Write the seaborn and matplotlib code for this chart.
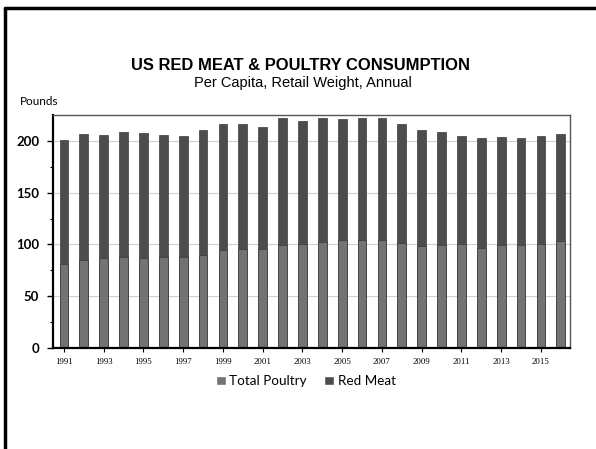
import matplotlib
matplotlib.use("Agg")
import matplotlib.pyplot as plt
import seaborn as sns
import pandas as pd
from matplotlib.lines import Line2D
from matplotlib.patches import Patch

# values (pounds per capita, retail weight)
years = [str(y) for y in range(1991, 2017)]
poultry = [81.5, 85.2, 86.8, 87.7, 87.1, 87.7, 88.0, 90.0, 94.5, 95.5,
           95.5, 99.7, 100.6, 102.3, 103.9, 104.2, 104.5, 101.6, 98.4, 99.7,
           100.3, 97.0, 99.4, 99.4, 100.6, 102.9]
red_meat = [119.5, 121.3, 119.2, 121.0, 120.9, 118.1, 116.8, 120.6, 122.0, 120.3,
            118.0, 121.9, 118.8, 119.7, 117.1, 117.8, 117.5, 114.2, 112.2, 109.3,
            104.7, 106.0, 104.1, 102.9, 104.4, 103.6]
y_ticks = [0, 50, 100, 150, 200]

poultry_color = "#737373"
red_color = "#4d4d4d"

df = pd.DataFrame({"year": years, "poultry": poultry, "red_meat": red_meat})
df["total"] = df["poultry"] + df["red_meat"]

sns.set_style("white")
plt.rcParams["font.family"] = ["Liberation Sans", "DejaVu Sans"]
plt.rcParams["text.color"] = "black"
plt.rcParams["xtick.color"] = "black"
plt.rcParams["ytick.color"] = "black"

fig = plt.figure(figsize=(5.96, 4.49), dpi=100)
ax = fig.add_axes([0.089, 0.225, 0.867, 0.519])

# stacked: draw totals first, poultry over the bottom part
sns.barplot(data=df, x="year", y="total", color=red_color, saturation=1,
            width=0.44, errorbar=None, edgecolor="#3a3a3a", linewidth=0.5, ax=ax)
sns.barplot(data=df, x="year", y="poultry", color=poultry_color, saturation=1,
            width=0.44, errorbar=None, edgecolor="#3a3a3a", linewidth=0.5, ax=ax)

ax.set_xlim(-0.55, 25.45)
ax.set_ylim(0, 225)
ax.set_yticks(y_ticks)
ax.set_yticks(range(25, 225, 50), minor=True)
ax.set_yticklabels([str(v) for v in y_ticks], fontsize=9.5, fontweight="bold",
                   family=["Lato", "DejaVu Sans"])
ax.set_xticks(range(0, 26, 2))
ax.set_xticklabels(years[::2], fontsize=6.3, family=["Liberation Serif"])
ax.set_xlabel("")
ax.set_ylabel("")
ax.grid(axis="y", color="#cfcfcf", linewidth=0.8)
ax.set_axisbelow(True)
ax.tick_params(axis="y", which="major", length=4, width=1, left=True, pad=6)
ax.tick_params(axis="y", which="minor", length=2, width=0.8, left=True)
ax.tick_params(axis="x", length=3, width=0.8, bottom=True, pad=4)

for side in ["left", "bottom"]:
    ax.spines[side].set_color("black")
    ax.spines[side].set_linewidth(1.6)
for side in ["top", "right"]:
    ax.spines[side].set_color("#555555")
    ax.spines[side].set_linewidth(1.0)

fig.text(0.505, 0.855, "US RED MEAT & POULTRY CONSUMPTION", ha="center",
         va="center", fontsize=11.9, fontweight="bold")
fig.text(0.508, 0.815, "Per Capita, Retail Weight, Annual", ha="center",
         va="center", fontsize=10.5)
fig.text(0.034, 0.775, "Pounds", ha="left", va="center", fontsize=8.5,
         family=["Lato", "DejaVu Sans"])

handles = [Patch(facecolor=poultry_color, label="Total Poultry"),
           Patch(facecolor=red_color, label="Red Meat")]
fig.legend(handles=handles, loc="center", bbox_to_anchor=(0.513, 0.151), ncol=2,
           frameon=False, handlelength=0.75, handleheight=0.75, handletextpad=0.25,
           columnspacing=1.3, prop={"family": "Lato", "size": 9.7})

# outer frame (top and left edges only)
fig.add_artist(Line2D([0.009, 1.0], [0.982, 0.982], color="black", lw=2.5,
                      transform=fig.transFigure))
fig.add_artist(Line2D([0.009, 0.009], [0.0, 0.982], color="black", lw=2.5,
                      transform=fig.transFigure))

fig.savefig("out.png", dpi=100)
